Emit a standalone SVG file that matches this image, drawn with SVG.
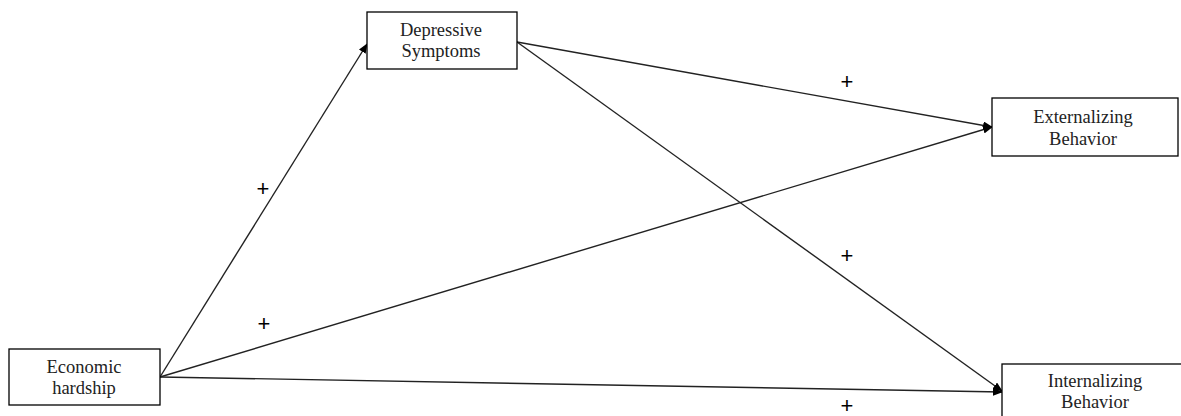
<svg xmlns="http://www.w3.org/2000/svg" width="1181" height="416" viewBox="0 0 1181 416">
  <style>
    .box { fill: #ffffff; stroke: #000000; stroke-width: 1.3; }
    .lbl { font-family: "Liberation Serif", "Times New Roman", serif; font-size: 18.5px; fill: #222222; text-anchor: middle; }
    .sign { font-family: "Liberation Sans", Arial, sans-serif; font-size: 22px; fill: #000000; text-anchor: middle; }
    .path { stroke: #222222; stroke-width: 1.4; fill: none; marker-end: url(#head); }
  </style>
  <defs>
    <marker id="head" markerWidth="10" markerHeight="8" refX="9" refY="4" orient="auto" markerUnits="userSpaceOnUse">
      <path d="M0,0 L10,4 L0,8 Z" fill="#000000"/>
    </marker>
  </defs>
  <rect width="1181" height="416" fill="#ffffff"/>

  <g id="connectors">
    <line class="path" x1="160" y1="377" x2="367" y2="44"/>
    <line class="path" x1="160" y1="377" x2="992" y2="127"/>
    <line class="path" x1="160" y1="377" x2="1002" y2="392"/>
    <line class="path" x1="517" y1="42" x2="992" y2="127"/>
    <line class="path" x1="517" y1="42" x2="1002" y2="391"/>
  </g>

  <g id="signs">
    <text class="sign" x="263" y="196">+</text>
    <text class="sign" x="847" y="89">+</text>
    <text class="sign" x="847" y="263">+</text>
    <text class="sign" x="264" y="331">+</text>
    <text class="sign" x="847" y="413">+</text>
  </g>

  <g id="depressive">
    <rect class="box" x="367" y="12" width="150" height="57"/>
    <text class="lbl" x="441" y="36">Depressive</text>
    <text class="lbl" x="441" y="57">Symptoms</text>
  </g>

  <g id="economic">
    <rect class="box" x="9" y="349" width="151" height="56"/>
    <text class="lbl" x="84" y="373">Economic</text>
    <text class="lbl" x="84" y="394">hardship</text>
  </g>

  <g id="externalizing">
    <rect class="box" x="992" y="98" width="186" height="58"/>
    <text class="lbl" x="1083" y="123">Externalizing</text>
    <text class="lbl" x="1083" y="145">Behavior</text>
  </g>

  <g id="internalizing">
    <rect class="box" x="1002" y="364" width="190" height="60"/>
    <text class="lbl" x="1095" y="387">Internalizing</text>
    <text class="lbl" x="1095" y="408">Behavior</text>
  </g>
</svg>
